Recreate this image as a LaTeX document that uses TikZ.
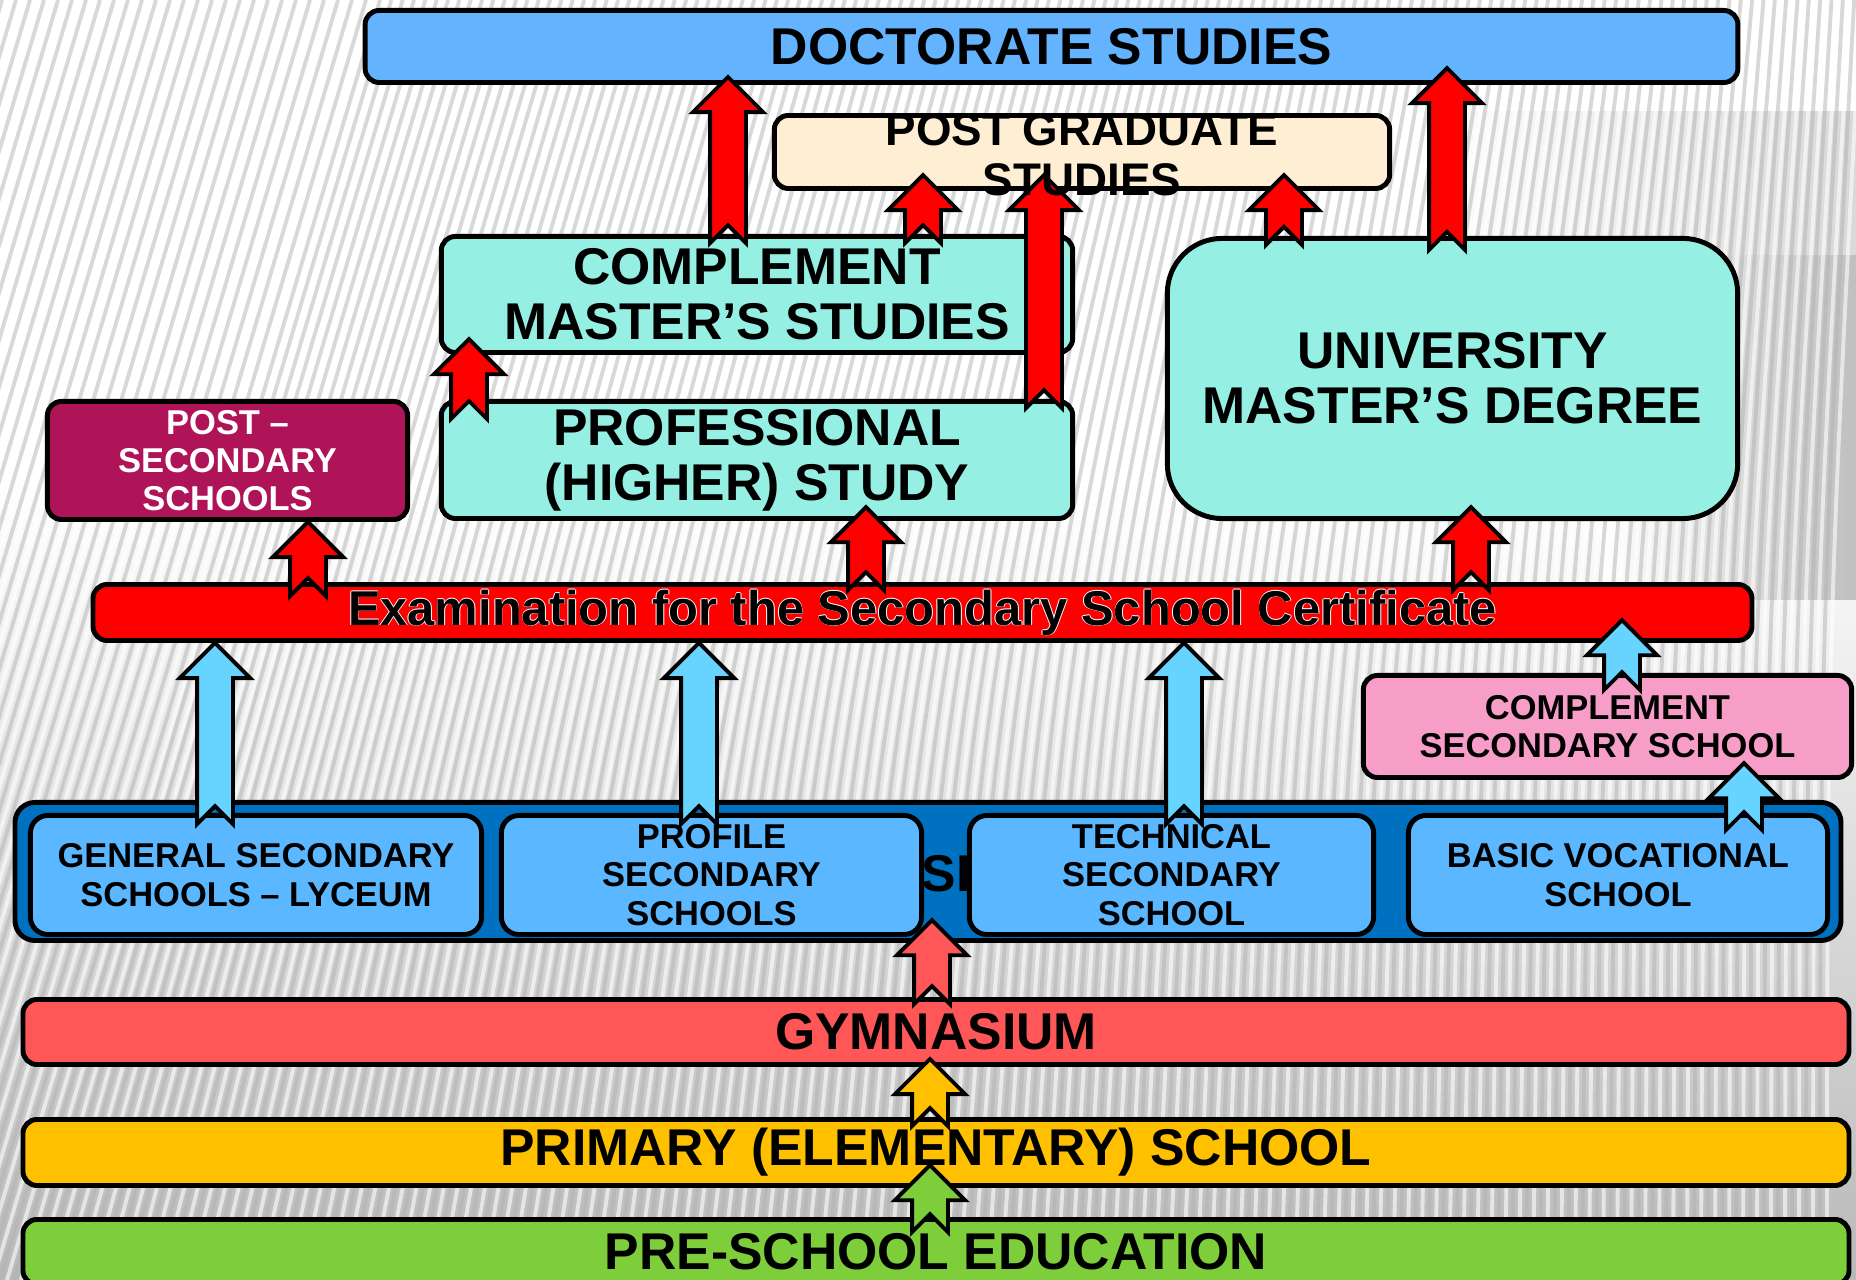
\documentclass[tikz,border=0pt]{standalone}
\usepackage{fontspec}
\setmainfont{Liberation Sans}
\usetikzlibrary{calc}
\definecolor{docblue}{RGB}{99,179,255}
\definecolor{pgcream}{RGB}{253,238,212}
\definecolor{aqua}{RGB}{150,239,227}
\definecolor{plum}{RGB}{175,19,88}
\definecolor{pinkbox}{RGB}{246,158,200}
\definecolor{bandblue}{RGB}{0,112,192}
\definecolor{subblue}{RGB}{91,183,255}
\definecolor{arrblue}{RGB}{102,212,255}
\definecolor{gymred}{RGB}{255,87,87}
\definecolor{primyel}{RGB}{255,192,0}
\definecolor{pregreen}{RGB}{126,206,60}
\newcommand{\bigtxt}{\fontsize{14.7}{15.6}\selectfont\bfseries}
\newcommand{\midtxt}{\fontsize{13}{14.2}\selectfont\bfseries}
\newcommand{\examtxt}{\fontsize{13.9}{15}\selectfont\bfseries}
\newcommand{\smalltxt}{\fontsize{9.8}{10.9}\selectfont\bfseries}
\newcommand{\examline}{Examination for the Secondary School Certificate}
% block arrow: fill, x, from node, to node, tail depth, tip overlap (px)
\newcommand{\flowarrow}[6]{%
  \filldraw[arr,fill=#1] let \p1=(#2,0|-#3.north), \p2=(#2,0|-#4.south) in
    (\x1,{\y1-#5*0.2835pt+5.1pt}) -- (\x1-5.1pt,{\y1-#5*0.2835pt})
    -- (\x1-5.1pt,{\y2+#6*0.2835pt-10pt}) -- (\x1-10pt,{\y2+#6*0.2835pt-10pt})
    -- (\x1,{\y2+#6*0.2835pt}) -- (\x1+10pt,{\y2+#6*0.2835pt-10pt})
    -- (\x1+5.1pt,{\y2+#6*0.2835pt-10pt}) -- (\x1+5.1pt,{\y1-#5*0.2835pt}) -- cycle;
}
\tikzset{
  bx/.style={draw=black,line width=1.4pt,rounded corners=4pt,inner sep=0pt,align=center,font=\bigtxt},
  sbx/.style={bx,fill=subblue,rounded corners=5pt,font=\smalltxt,minimum height=1.19cm},
  lvl/.style={bx,minimum width=18.25cm,minimum height=0.65cm},
  arr/.style={draw=black,line width=1.1pt,line join=miter},
  stripe/.style={gray!60,line width=1.1pt,opacity=.5},
  glint/.style={white,line width=1.1pt,opacity=.6}
}
\begin{document}
\begin{tikzpicture}[x=0.01cm,y=-0.01cm]
\useasboundingbox (0,0) rectangle (1856,1280);
% striped backdrop
\begin{scope}
  \clip (0,0) rectangle (1856,1280);
  \fill[white] (0,0) rectangle (1856,1280);
  \shade[top color=white,bottom color=gray!55] (0,480) rectangle (1856,1280);
  \shade[left color=white,right color=gray!30] (1420,112) rectangle (1856,258);
  \shade[left color=white,right color=gray!50] (1600,256) rectangle (1856,600);
  \foreach \i in {0,...,160}{
    \pgfmathsetmacro\xb{-420+14*\i}
    \pgfmathsetmacro\sh{380-0.19*max(\xb,0)}
    \pgfmathsetmacro\cb{0.5*(1-max(\xb,0)/1856)}
    \draw[stripe] (\xb,1280) .. controls ({\xb+\sh*\cb},640) .. ({\xb+\sh},0);
    \draw[glint] (\xb+7,1280) .. controls ({\xb+7+\sh*\cb},640) .. ({\xb+7+\sh},0);
  }
\end{scope}

% higher education
\node[bx,fill=docblue,minimum width=13.72cm,minimum height=0.72cm] (doct) at (1051.5,46.5) {DOCTORATE STUDIES};
\node[bx,fill=pgcream,minimum width=6.15cm,minimum height=0.73cm] (pgs) at (1082,152) {};
\node[bx,fill=aqua,minimum width=6.31cm,minimum height=1.16cm] (cms) at (757,294.5) {COMPLEMENT\\MASTER’S STUDIES};
\node[bx,fill=aqua,minimum width=6.31cm,minimum height=1.17cm] (prof) at (757,460) {PROFESSIONAL\\(HIGHER) STUDY};
\node[bx,fill=aqua,rounded corners=15.6pt,minimum width=5.70cm,minimum height=2.80cm] (univ) at (1452.5,378.5) {UNIVERSITY\\MASTER’S DEGREE};
\node[bx,fill=plum,text=white,font=\smalltxt,minimum width=3.60cm,minimum height=1.18cm] (postsec) at (227.5,460.5) {POST –\\SECONDARY\\SCHOOLS};

% examination
\node[bx,fill=red,minimum width=16.58cm,minimum height=0.56cm] (exam) at (922.5,612.5) {};
\foreach \dx/\dy in {0.8/0,-0.8/0,0/0.8,0/-0.8}
  \node[font=\examtxt,text=white,inner sep=0pt] at ([shift={(\dx,\dy)}]exam) {\examline};
\node[font=\examtxt,inner sep=0pt] (examtxt) at (exam) {\examline};
\node[bx,fill=pinkbox,font=\smalltxt,minimum width=4.88cm,minimum height=1.02cm] (cplsec) at (1607.5,726.5) {COMPLEMENT\\SECONDARY SCHOOL};

% secondary schools
\node[bx,fill=bandblue,rounded corners=5.7pt,minimum width=18.25cm,minimum height=1.38cm] (band) at (928,871.5) {};
\node[font=\bigtxt,inner sep=0pt] (sitxt) at (946,874) {SI};
\node[sbx,minimum width=4.51cm] (suba) at (256,875) {GENERAL SECONDARY\\SCHOOLS – LYCEUM};
\node[sbx,minimum width=4.20cm] (subb) at (711.5,875) {PROFILE\\SECONDARY\\SCHOOLS};
\node[sbx,minimum width=4.04cm] (subc) at (1171.5,875) {TECHNICAL\\SECONDARY\\SCHOOL};
\node[sbx,minimum width=4.19cm] (subd) at (1618,875) {BASIC VOCATIONAL\\SCHOOL};

% lower levels
\node[lvl,fill=gymred] (gym) at (936,1032) {GYMNASIUM};
\node[lvl,fill=primyel,minimum height=0.66cm] (prim) at (936,1152.5) {PRIMARY (ELEMENTARY) SCHOOL};
\node[lvl,fill=pregreen] (pre) at (936,1252) {PRE-SCHOOL EDUCATION};

% arrows
\flowarrow{red}{728}{cms}{doct}{9}{8}
\flowarrow{red}{923}{cms}{pgs}{9}{16}
\flowarrow{red}{1044}{prof}{pgs}{9}{16}
\flowarrow{red}{1284}{univ}{pgs}{9}{16}
\flowarrow{red}{1447}{univ}{doct}{14}{17}
\flowarrow{red}{469}{prof}{cms}{20}{16}
\flowarrow{red}{308}{exam}{postsec}{14}{0}
\flowarrow{red}{866}{exam}{prof}{8}{14}
\flowarrow{red}{1471}{exam}{univ}{8}{14}
\flowarrow{arrblue}{215}{suba}{exam}{11}{0}
\flowarrow{arrblue}{699}{subb}{exam}{11}{0}
\flowarrow{arrblue}{1184}{subc}{exam}{11}{0}
\flowarrow{arrblue}{1622}{cplsec}{exam}{17}{23}
\flowarrow{arrblue}{1744}{subd}{cplsec}{17}{17}
\flowarrow{gymred}{932}{gym}{band}{7}{23}
\flowarrow{primyel}{930}{prim}{gym}{9}{8}
\flowarrow{pregreen}{930}{pre}{prim}{15}{23}

\node[font=\midtxt,align=center,inner sep=0pt] (pgstext) at (1082,155) {POST GRADUATE\\STUDIES};
\end{tikzpicture}
\end{document}
